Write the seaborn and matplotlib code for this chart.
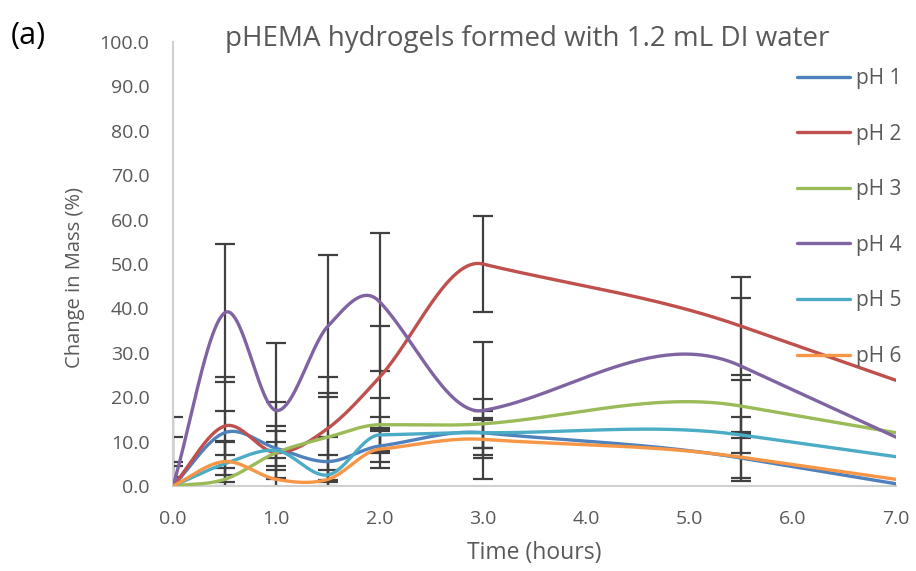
import numpy as np
import pandas as pd
import matplotlib
matplotlib.use("Agg")
import matplotlib.pyplot as plt
import seaborn as sns

# valores
tempo = [0, 0.5, 1.0, 1.5, 2.0, 3.0, 5.5, 7.0]
series = ["pH 1", "pH 2", "pH 3", "pH 4", "pH 5", "pH 6"]

ph1 = [0, 12.0, 8.5, 5.5, 9.0, 12.0, 6.3, 0.5]
ph2 = [0, 13.5, 7.5, 13.0, 24.5, 50.0, 36.0, 23.8]
ph3 = [0, 1.5, 7.5, 11.0, 13.8, 14.0, 18.0, 12.0]
ph4 = [0, 39.0, 17.0, 36.0, 41.5, 17.0, 27.0, 11.0]
ph5 = [0, 5.0, 8.0, 2.5, 11.5, 12.0, 11.5, 6.6]
ph6 = [0, 5.5, 1.5, 1.5, 8.3, 10.5, 6.5, 1.5]

# desvios (sem barra de erro em 7.0)
nan = float("nan")
err1 = [4.5, 5.0, 4.0, 5.5, 3.5, 3.4, 4.4, nan]
err2 = [15.5, 11.0, 6.0, 11.6, 11.5, 10.7, 11.0, nan]
err3 = [5.5, 2.5, 11.5, 10.0, 6.0, 5.5, 5.9, nan]
err4 = [11.0, 15.5, 15.3, 16.0, 15.5, 15.4, 15.3, nan]
err5 = [2.0, 5.0, 1.8, 4.5, 4.0, 5.0, 4.1, nan]
err6 = [1.0, 4.7, 2.0, 2.0, 4.3, 4.3, 5.3, nan]

valores = [ph1, ph2, ph3, ph4, ph5, ph6]
erros = [err1, err2, err3, err4, err5, err6]
cores = ["#4F81BD", "#C0504D", "#9BBB59", "#8064A2", "#4BACC6", "#F79646"]


def suavizar(xs, ys, n=60):
    """Linha suavizada (Hermite cúbica) passando pelos pontos medidos."""
    xs = np.asarray(xs, float)
    ys = np.asarray(ys, float)
    h = np.diff(xs)
    d = np.diff(ys) / h
    m = np.empty_like(ys)
    m[0], m[-1] = d[0], d[-1]
    for i in range(1, len(xs) - 1):
        if np.isclose(h[i - 1], h[i]):
            m[i] = (d[i - 1] + d[i]) / 2
        else:
            m[i] = d[i]
    cx, cy = [], []
    s = np.linspace(0, 1, n)
    for i in range(len(h)):
        h00 = 2 * s**3 - 3 * s**2 + 1
        h10 = s**3 - 2 * s**2 + s
        h01 = -2 * s**3 + 3 * s**2
        h11 = s**3 - s**2
        yy = h00 * ys[i] + h10 * h[i] * m[i] + h01 * ys[i + 1] + h11 * h[i] * m[i + 1]
        xx = xs[i] + s * h[i]
        ini = 0 if i == 0 else 1
        cx.append(xx[ini:])
        cy.append(yy[ini:])
    return np.concatenate(cx), np.concatenate(cy)


linhas = []
for nome, ys in zip(series, valores):
    cx, cy = suavizar(tempo, ys)
    linhas.append(pd.DataFrame({"tempo": cx, "massa": cy, "serie": nome}))
df_linhas = pd.concat(linhas, ignore_index=True)

sns.set_theme(style="white")
plt.rcParams["font.family"] = ["Open Sans", "DejaVu Sans"]
cinza = "#595959"

fig = plt.figure(figsize=(9.16, 5.71), dpi=100)
ax = fig.add_axes([173 / 916, 85 / 571, 723 / 916, 444 / 571])

# barras de erro atrás das linhas
for ys, es in zip(valores, erros):
    ax.errorbar(tempo, ys, yerr=es, fmt="none", ecolor="#404040", elinewidth=1.6,
                capsize=7, capthick=1.6, zorder=1)

sns.lineplot(data=df_linhas, x="tempo", y="massa", hue="serie", palette=cores,
             sort=False, estimator=None, linewidth=2.4, ax=ax, zorder=3,
             legend=False)

ax.set_xlim(0, 7.0)
ax.set_ylim(0, 100.0)
xt = np.arange(0, 7.01, 1.0)
yt = np.arange(0, 100.1, 10)
ax.set_xticks(xt)
ax.set_xticklabels([f"{v:.1f}" for v in xt])
ax.set_yticks(yt)
ax.set_yticklabels([f"{v:.1f}" for v in yt])
ax.tick_params(axis="both", colors="#d0d0d0", labelcolor=cinza, labelsize=14,
               length=5, width=1.2, direction="out")
ax.tick_params(axis="y", pad=12)
ax.tick_params(axis="x", pad=12)

for lado in ["top", "right"]:
    ax.spines[lado].set_visible(False)
for lado in ["left", "bottom"]:
    ax.spines[lado].set_color("#d0d0d0")
    ax.spines[lado].set_linewidth(1.5)

ax.set_xlabel("Time (hours)", fontsize=16.5, color=cinza)
ax.set_ylabel("Change in Mass (%)", fontsize=14.5, color=cinza)
ax.xaxis.set_label_coords(0.5, -0.151)
ax.yaxis.set_label_coords(-0.1355, 0.47)
ax.xaxis.label.set_va("center")
ax.yaxis.label.set_va("center")

fig.text(527 / 916, 1 - 39 / 571, "pHEMA hydrogels formed with 1.2 mL DI water",
         ha="center", va="center", fontsize=20, color=cinza)
fig.text(11 / 916, 1 - 36 / 571, "(a)", ha="left", va="center", fontsize=22, color="black")

# legenda à direita, por cima do gráfico
handles = [plt.Line2D([], [], color=c, linewidth=2.4) for c in cores]
fig.legend(handles, series, loc="upper left", bbox_to_anchor=(797 / 916, 1 - 68 / 571),
           frameon=False, fontsize=15, labelcolor=cinza, handlelength=2.55,
           handletextpad=0.3, labelspacing=1.66, borderpad=0, borderaxespad=0)

plt.savefig("out.png", dpi=100)
plt.close()
